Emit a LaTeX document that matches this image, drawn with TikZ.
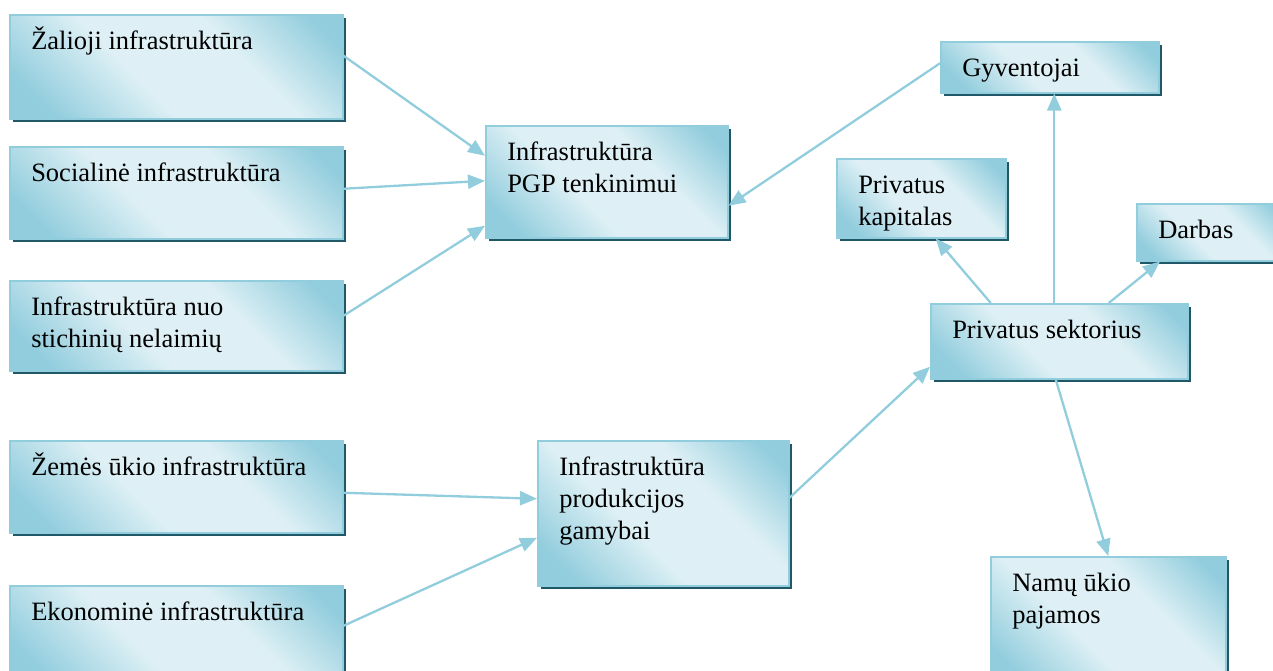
\documentclass[tikz,border=0pt]{standalone}
\usepackage{fontspec}
\setmainfont{Liberation Serif}
\usetikzlibrary{arrows.meta, shadows}
\definecolor{lblue}{RGB}{146,205,221}
\definecolor{pblue}{RGB}{222,240,245}
\definecolor{dteal}{RGB}{32,88,103}
\pgfdeclarehorizontalshading{blokshade}{100bp}{color(0bp)=(lblue); color(22bp)=(lblue);
  color(42bp)=(pblue); color(62bp)=(pblue); color(80bp)=(lblue); color(100bp)=(lblue)}
\newcommand{\blktext}[3]{\parbox[t][#2][t]{#1}{\strut #3}}

\tikzset{
  blok/.style={draw=lblue, line width=1.5pt, anchor=north west,
    inner xsep=21.5pt, inner ysep=12pt,
    shading=blokshade, shading angle=45,
    drop shadow={shadow xshift=3pt, shadow yshift=-3pt, fill=dteal, opacity=1},
    font=\fontsize{26.5}{32}\selectfont},
  rodykle/.style={-{Triangle[length=17pt,width=14pt]}, lblue, line width=2.3pt}
}

\begin{document}
\begin{tikzpicture}[x=1pt, y=-1pt]
        \clip (0,0) rectangle (1273,670);

        % Left column
        \node[blok] (zal) at (9,14) {\blktext{290pt}{80pt}{Žalioji infrastruktūra}};
        \node[blok] (soc) at (9,146) {\blktext{290pt}{68pt}{Socialinė infrastruktūra}};
        \node[blok] (stich) at (9,280) {\blktext{290pt}{66pt}{Infrastruktūra nuo\\stichinių nelaimių}};
        \node[blok] (zem) at (9,440) {\blktext{290pt}{68pt}{Žemės ūkio infrastruktūra}};
        \node[blok] (eko) at (9,585) {\blktext{290pt}{76pt}{Ekonominė infrastruktūra}};

        % Middle column
        \node[blok] (pgp) at (485,125) {\blktext{199pt}{88pt}{Infrastruktūra\\PGP tenkinimui}};
        \node[blok] (prod) at (537,440) {\blktext{208pt}{121pt}{Infrastruktūra\\produkcijos\\gamybai}};

        % Right side
        \node[blok] (gyv) at (940,41) {\blktext{175pt}{27pt}{Gyventojai}};
        \node[blok] (kap) at (836,158) {\blktext{126pt}{55pt}{Privatus\\kapitalas}};
        \node[blok] (darb) at (1136,203) {\blktext{107pt}{33pt}{Darbas}};
        \node[blok] (priv) at (930,303) {\blktext{214pt}{51pt}{Privatus sektorius}};
        \node[blok] (namu) at (990,556) {\blktext{192pt}{106pt}{Namų ūkio\\pajamos}};

        % Arrows
        \draw[rodykle] ([yshift=11pt]zal.east) -- ([yshift=26pt]pgp.west);
        \draw[rodykle] ([yshift=4pt]soc.east) -- ([yshift=1pt]pgp.west);
        \draw[rodykle] ([yshift=10pt]stich.east) -- ([yshift=-44pt]pgp.west);
        \draw[rodykle] ([yshift=4pt]gyv.west) -- ([yshift=-24pt]pgp.east);
        \draw[rodykle] ([xshift=-5pt]priv.north) -- ([xshift=-5pt]priv.north |- gyv.south);
        \draw[rodykle] ([xshift=-68.5pt]priv.north) -- ([xshift=14.5pt]kap.south);
        \draw[rodykle] ([xshift=49.5pt]priv.north) -- ([xshift=24pt]darb.south west);
        \draw[rodykle] ([xshift=-3.5pt]priv.south) -- (namu.north);
        \draw[rodykle] ([yshift=15.5pt]prod.east) -- ([yshift=-25.5pt]priv.west);
        \draw[rodykle] ([yshift=-6pt]zem.east) -- ([yshift=14.5pt]prod.west);
        \draw[rodykle] ([yshift=10pt]eko.east) -- ([yshift=-24.5pt]prod.west);
    \end{tikzpicture}
\end{document}
